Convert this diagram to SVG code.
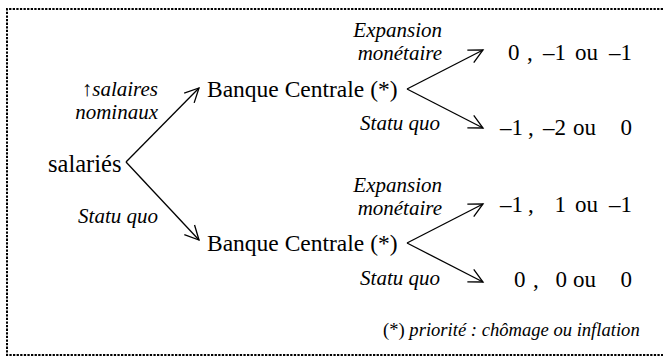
<svg xmlns="http://www.w3.org/2000/svg" width="665" height="358" viewBox="0 0 665 358">
<style>
text{font-family:"Liberation Serif","Times New Roman",serif;fill:#000;white-space:pre}
.n{font-size:23.5px}
.o{font-size:23px}
.e{text-anchor:end}
.i{font-size:21px;font-style:italic}
.f{font-size:18.6px}
.c{stroke:#000;stroke-width:1.3;fill:none}
</style>
<defs>
<marker id="ah" markerUnits="userSpaceOnUse" markerWidth="20" markerHeight="20" viewBox="-16 -10 20 20" refX="0" refY="0" orient="auto" overflow="visible">
<path d="M-14,-7 L0,0 L-14,7" fill="none" stroke="#000" stroke-width="1.3"/>
</marker>
</defs>
<path d="M663,9 H7 V355 H663" fill="none" stroke="#000" stroke-width="2" stroke-dasharray="2.3 1.3"/>
<g id="connectors">
<path class="c" d="M126,162 L199,88" marker-end="url(#ah)"/>
<path class="c" d="M126,162 L199,240" marker-end="url(#ah)"/>
<path class="c" d="M407,89 L483,50" marker-end="url(#ah)"/>
<path class="c" d="M407,89 L483,128" marker-end="url(#ah)"/>
<path class="c" d="M407,243 L483,204" marker-end="url(#ah)"/>
<path class="c" d="M407,243 L483,282" marker-end="url(#ah)"/>
</g>
<g id="salaries"><text x="48" y="172" font-size="24.5">salariés</text></g>
<g id="label-salaires"><text class="i e" x="158" y="96">↑salaires</text><text class="i e" x="158" y="119">nominaux</text></g>
<g id="label-statu-quo-1"><text class="i e" x="158" y="223">Statu quo</text></g>
<g id="banque-1"><text class="n" x="207" y="97">Banque Centrale (*)</text></g>
<g id="banque-2"><text class="n" x="207" y="251">Banque Centrale (*)</text></g>
<g id="label-exp-1"><text class="i e" x="442" y="37">Expansion</text><text class="i e" x="442" y="60">monétaire</text></g>
<g id="label-sq-2"><text class="i e" x="440" y="130">Statu quo</text></g>
<g id="label-exp-2"><text class="i e" x="442" y="192">Expansion</text><text class="i e" x="442" y="215">monétaire</text></g>
<g id="label-sq-3"><text class="i e" x="440" y="285">Statu quo</text></g>
<g id="out-1"><text class="o" x="508" y="60">0</text><text class="o" x="527" y="60">,</text><text class="o e" x="566" y="60">–1</text><text class="o" x="575" y="60">ou</text><text class="o e" x="632" y="60">–1</text></g>
<g id="out-2"><text class="o" x="500" y="135">–1</text><text class="o" x="528" y="135">,</text><text class="o e" x="566" y="135">–2</text><text class="o" x="573" y="135">ou</text><text class="o e" x="632" y="135">0</text></g>
<g id="out-3"><text class="o" x="500" y="212">–1</text><text class="o" x="528" y="212">,</text><text class="o e" x="566" y="212">1</text><text class="o" x="575" y="212">ou</text><text class="o e" x="632" y="212">–1</text></g>
<g id="out-4"><text class="o" x="514" y="287">0</text><text class="o" x="533" y="287">,</text><text class="o e" x="567" y="287">0</text><text class="o" x="573" y="287">ou</text><text class="o e" x="632" y="287">0</text></g>
<g id="footnote"><text class="f" x="383" y="336">(*) <tspan font-style="italic">priorité : chômage ou inflation</tspan></text></g>
</svg>
